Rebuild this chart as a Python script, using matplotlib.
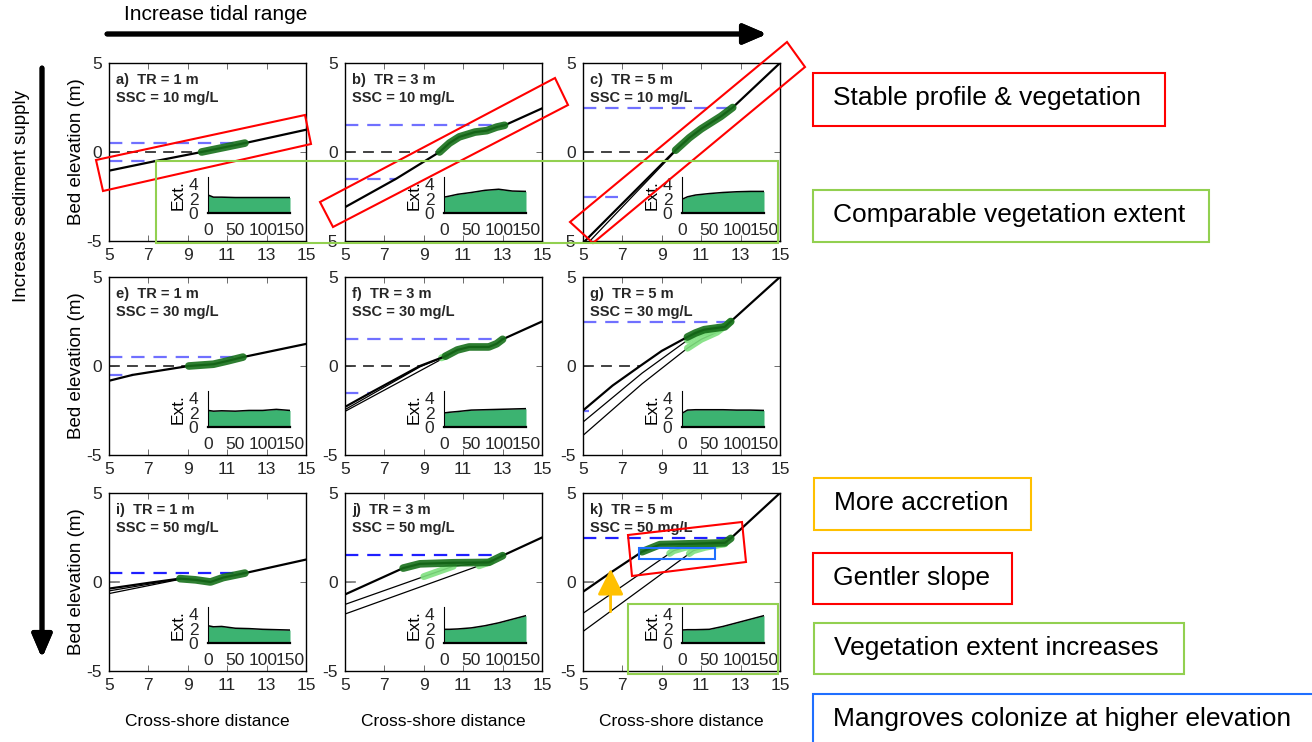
import numpy as np
import matplotlib.pyplot as plt
from matplotlib.patches import Polygon, Rectangle

plt.rcParams['font.family'] = ['Liberation Sans', 'DejaVu Sans']
plt.rcParams['axes.unicode_minus'] = False

W, H = 1312, 742

# ---- panel info ----
panel_ids = ["a", "b", "c", "e", "f", "g", "i", "j", "k"]
tidal_range = [1, 3, 5, 1, 3, 5, 1, 3, 5]
ssc = [10, 10, 10, 30, 30, 30, 50, 50, 50]

# ---- final bed profiles (cross-shore distance, elevation) ----
a_x = [5, 7.4, 9.7, 11.9, 15]
a_z = [-1.05, -0.5, 0.0, 0.5, 1.25]
b_x = [5, 7.6, 9.8, 10.3, 10.8, 11.6, 12.2, 12.7, 13.1, 15]
b_z = [-3.1, -1.5, 0.0, 0.5, 0.85, 1.12, 1.2, 1.4, 1.5, 2.45]
c_x = [5.1, 9.7, 10.4, 11.0, 12.0, 12.6, 15]
c_z = [-5.0, 0.1, 0.8, 1.3, 2.0, 2.5, 5.0]
e_x = [5, 6.2, 9.05, 10.3, 11.0, 11.8, 15]
e_z = [-0.83, -0.5, 0.0, 0.1, 0.28, 0.5, 1.24]
f_x = [5, 6.3, 8.8, 10.1, 10.7, 11.3, 12.3, 12.7, 13.0, 15]
f_z = [-2.3, -1.5, 0.0, 0.55, 0.9, 1.07, 1.07, 1.25, 1.5, 2.5]
g_x = [5, 6.5, 7.9, 9.0, 10.3, 10.7, 11.15, 12.2, 12.5, 15]
g_z = [-2.5, -1.1, 0.0, 0.85, 1.63, 1.85, 2.04, 2.2, 2.5, 5.0]
i_x = [5, 7.0, 8.6, 9.4, 10.15, 10.8, 11.9, 15]
i_z = [-0.37, -0.05, 0.19, 0.12, 0.0, 0.25, 0.5, 1.26]
j_x = [5, 7.95, 8.8, 10.5, 12.3, 13.0, 15]
j_z = [-0.7, 0.78, 1.02, 1.08, 1.1, 1.48, 2.5]
k_x = [5, 6.5, 8.0, 8.9, 12.2, 12.5, 15]
k_z = [-0.55, 0.6, 1.7, 2.1, 2.2, 2.45, 5.0]

# ---- earlier (thin) profiles ----
c_old_x = [[5.35, 9.7]]
c_old_z = [[-5.0, 0.05]]
f_old_x = [[5, 8.8, 10.1], [5, 10.1]]
f_old_z = [[-2.45, -0.05, 0.55], [-2.55, 0.5]]
g_old_x = [[5, 8.0, 10.3, 10.8, 12.0], [5, 8.0, 10.3, 11.0, 11.8, 12.5]]
g_old_z = [[-3.15, -0.4, 1.45, 1.8, 2.1], [-3.9, -1.0, 1.0, 1.5, 1.9, 2.5]]
i_old_x = [[5, 8.6], [5, 8.6]]
i_old_z = [[-0.5, 0.17], [-0.65, 0.15]]
j_old_x = [[5, 10.5, 12.3], [5, 12.4]]
j_old_z = [[-1.26, 0.89, 1.1], [-1.8, 1.15]]
k_old_x = [[5, 9.6, 10.2, 12.2], [5, 10.6, 11.2, 12.2]]
k_old_z = [[-1.76, 1.76, 1.95, 2.15], [-2.78, 1.76, 1.95, 2.15]]

# vegetated stretch of final profile (start, end)
veg_range = [(9.7, 11.9), (9.8, 13.1), (9.7, 12.6), (9.05, 11.8), (10.1, 13.0),
             (10.3, 12.5), (8.6, 11.9), (7.95, 13.0), (8.0, 12.5)]
# vegetated stretch on earlier profiles
old_veg = {"f": [(9.9, 10.1)], "g": [(10.3, 12.0), (10.3, 12.5)],
           "j": [(9.0, 10.5), (11.8, 12.4)], "k": [(9.4, 12.2), (10.4, 12.2)]}

# end of dashed reference lines (MSL, low water)
zero_end = [9.7, 9.8, 9.1, 9.05, 8.8, 7.9, 5.9, 5.6, 5.6]
low_end = [7.4, 7.6, 6.8, 6.2, 6.3, 5.3, None, None, None]

# ---- inset: vegetation extent vs time ----
ext_t = [0, 10, 25, 50, 75, 100, 125, 150]
a_ext = [2.5, 2.2, 2.2, 2.15, 2.15, 2.15, 2.15, 2.15]
b_ext = [2.2, 2.35, 2.6, 2.85, 3.15, 3.3, 3.05, 3.0]
c_ext = [1.9, 2.25, 2.5, 2.7, 2.85, 2.95, 3.0, 3.0]
e_ext = [2.3, 2.2, 2.25, 2.2, 2.3, 2.3, 2.45, 2.3]
f_ext = [1.95, 2.05, 2.15, 2.35, 2.4, 2.45, 2.5, 2.55]
g_ext = [1.9, 2.35, 2.4, 2.4, 2.4, 2.35, 2.35, 2.3]
i_ext = [2.4, 2.25, 2.3, 2.05, 2.0, 1.9, 1.85, 1.8]
j_ext = [1.9, 1.9, 1.95, 2.1, 2.4, 2.8, 3.3, 3.8]
k_ext = [1.8, 1.85, 1.85, 1.9, 2.3, 2.8, 3.3, 3.8]

profiles = {"a": (a_x, a_z), "b": (b_x, b_z), "c": (c_x, c_z), "e": (e_x, e_z),
            "f": (f_x, f_z), "g": (g_x, g_z), "i": (i_x, i_z), "j": (j_x, j_z),
            "k": (k_x, k_z)}
old_profiles = {"c": (c_old_x, c_old_z), "f": (f_old_x, f_old_z), "g": (g_old_x, g_old_z),
                "i": (i_old_x, i_old_z), "j": (j_old_x, j_old_z), "k": (k_old_x, k_old_z)}
extents = {"a": a_ext, "b": b_ext, "c": c_ext, "e": e_ext, "f": f_ext, "g": g_ext,
           "i": i_ext, "j": j_ext, "k": k_ext}


def fx(x):
    return x / W


def fy(y):
    return 1 - y / H


def segment(px, pz, x0, x1):
    xs = np.linspace(x0, x1, 60)
    return xs, np.interp(xs, px, pz)


fig = plt.figure(figsize=(W / 100, H / 100), dpi=100)

col_left = [109, 345, 583]
row_top = [63, 277, 493]
ax_w, ax_h = 197, 178
tick_col = '#262626'
dark_green = '#17701a'
light_green = '#7fe07f'
axes = []

for n, pid in enumerate(panel_ids):
    r, c = divmod(n, 3)
    left, top = col_left[c], row_top[r]
    ax = fig.add_axes([fx(left), fy(top + ax_h), ax_w / W, ax_h / H])
    axes.append(ax)
    tr = tidal_range[n]
    px, pz = profiles[pid]
    blue = '#1f1fff' if r == 2 else '#7070ff'
    zcol = '#808080' if r == 2 else '#333333'

    # reference levels
    ax.plot([5, zero_end[n]], [0, 0], ls=(0, (6, 4)), color=zcol, lw=1.3)
    ax.plot([5, veg_range[n][1]], [tr / 2, tr / 2], ls=(0, (6, 4)), color=blue, lw=1.6)
    if low_end[n] is not None:
        ax.plot([5, low_end[n]], [-tr / 2, -tr / 2], ls=(0, (6, 4)), color=blue, lw=1.6)

    # earlier profiles
    if pid in old_profiles:
        ox, oz = old_profiles[pid]
        for xx, zz in zip(ox, oz):
            ax.plot(xx, zz, color='k', lw=0.9)
        for (v0, v1), xx, zz in zip(old_veg.get(pid, []), ox, oz):
            sx, sz = segment(xx, zz, v0, v1)
            ax.plot(sx, sz, color=light_green, lw=5, solid_capstyle='round', alpha=0.9)

    # final profile + vegetation
    ax.plot(px, pz, color='k', lw=1.6)
    sx, sz = segment(px, pz, *veg_range[n])
    ax.plot(sx, sz, color=dark_green, lw=5.5, solid_capstyle='round', alpha=0.9)

    ax.set_xlim(5, 15)
    ax.set_ylim(-5, 5)
    ax.set_xticks([5, 7, 9, 11, 13, 15])
    ax.set_yticks([-5, 0, 5])
    ax.tick_params(direction='in', length=4, top=True, right=True, labelsize=12.5,
                   labelcolor=tick_col, pad=5, width=0.6, color='#555555')
    for sp in ax.spines.values():
        sp.set_linewidth(1.0)

    lab = f"{pid})  TR = {tr} m\nSSC = {ssc[n]} mg/L"
    ax.text(0.035, 0.945, lab, transform=ax.transAxes, va='top', ha='left',
            fontsize=10.5, fontweight='bold', color=tick_col, linespacing=1.35)

    if c == 0:
        ax.set_ylabel("Bed elevation (m)", fontsize=13.5, labelpad=1)
    if r == 2:
        ax.set_xlabel("Cross-shore distance", fontsize=12.5, labelpad=15)

    # inset with vegetation extent
    ins = fig.add_axes([fx(left + 99), fy(top + ax_h - 28), 82 / W, 36 / H])
    ext = extents[pid]
    ins.fill_between(ext_t, 0, ext, color='#3cb371', lw=0)
    ins.plot(ext_t, ext, color='k', lw=1.1)
    ins.set_xlim(0, 150)
    ins.set_ylim(0, 5)
    ins.set_xticks([0, 50, 100, 150])
    ins.set_yticks([0, 2, 4])
    ins.patch.set_alpha(0)
    ins.spines['top'].set_visible(False)
    ins.spines['right'].set_visible(False)
    ins.spines['bottom'].set_linewidth(1.6)
    ins.tick_params(length=0, labelsize=12.5, labelcolor=tick_col, pad=7)
    ins.set_ylabel("Ext.", fontsize=12.5, labelpad=2)

# orange accretion arrow in panel k
axes[8].annotate('', xy=(6.4, 0.74), xytext=(6.4, -1.67),
                 arrowprops=dict(arrowstyle='-|>,head_length=0.8,head_width=0.4',
                                 color='#ffc000', lw=2, mutation_scale=20,
                                 shrinkA=0, shrinkB=0))

# ---- annotation outlines (figure pixels) ----
def poly(pts, col):
    fig.add_artist(Polygon([(fx(x), fy(y)) for x, y in pts], closed=True, fill=False,
                           ec=col, lw=1.5, transform=fig.transFigure))


poly([(96, 160), (305, 115), (311, 144), (103, 191)], '#ff0000')
poly([(320, 202), (555, 78), (568, 105), (333, 227)], '#ff0000')
poly([(570, 222), (787, 42), (805, 67), (593, 243)], '#ff0000')
poly([(156, 161), (778, 161), (778, 243), (156, 243)], '#92d050')
poly([(628, 535), (742, 522), (746, 562), (632, 576)], '#ff0000')
poly([(639, 548), (715, 548), (715, 559), (639, 559)], '#1f6fff')
poly([(628, 604), (778, 604), (778, 674), (628, 674)], '#92d050')

# ---- right side text boxes ----
notes = ["Stable profile & vegetation", "Comparable vegetation extent", "More accretion",
         "Gentler slope", "Vegetation extent increases", "Mangroves colonize at higher elevation"]
note_cols = ['#ff0000', '#92d050', '#ffc000', '#ff0000', '#92d050', '#1f6fff']
note_box = [(813, 73, 1165, 126), (813, 190, 1209, 242), (814, 478, 1031, 530),
            (813, 553, 1012, 604), (814, 623, 1184, 674), (813, 694, 1330, 760)]
for txt, col, (x0, y0, x1, y1) in zip(notes, note_cols, note_box):
    fig.add_artist(Rectangle((fx(x0), fy(y1)), (x1 - x0) / W, (y1 - y0) / H, fill=False,
                             ec=col, lw=1.5, transform=fig.transFigure))
    fig.text(fx(x0 + 20), fy((y0 + min(y1, 746)) / 2 - 1), txt, fontsize=19,
             va='center', ha='left')

# ---- forcing arrows ----
fig.text(fx(124), fy(15), "Increase tidal range", fontsize=15, va='center', ha='left')
fig.text(fx(22), fy(196), "Increase sediment supply", fontsize=13.5, va='center',
         ha='center', rotation=90)
arrow = dict(arrowstyle='-|>,head_length=0.7,head_width=0.3', color='k', lw=3.5,
             mutation_scale=20, shrinkA=0, shrinkB=0)
fig.add_artist(plt.annotate('', xy=(fx(767), fy(34)), xytext=(fx(107), fy(34)),
                            xycoords='figure fraction', arrowprops=arrow))
fig.add_artist(plt.annotate('', xy=(fx(42), fy(658)), xytext=(fx(42), fy(68)),
                            xycoords='figure fraction', arrowprops=arrow))

fig.savefig('out.png', dpi=100)
